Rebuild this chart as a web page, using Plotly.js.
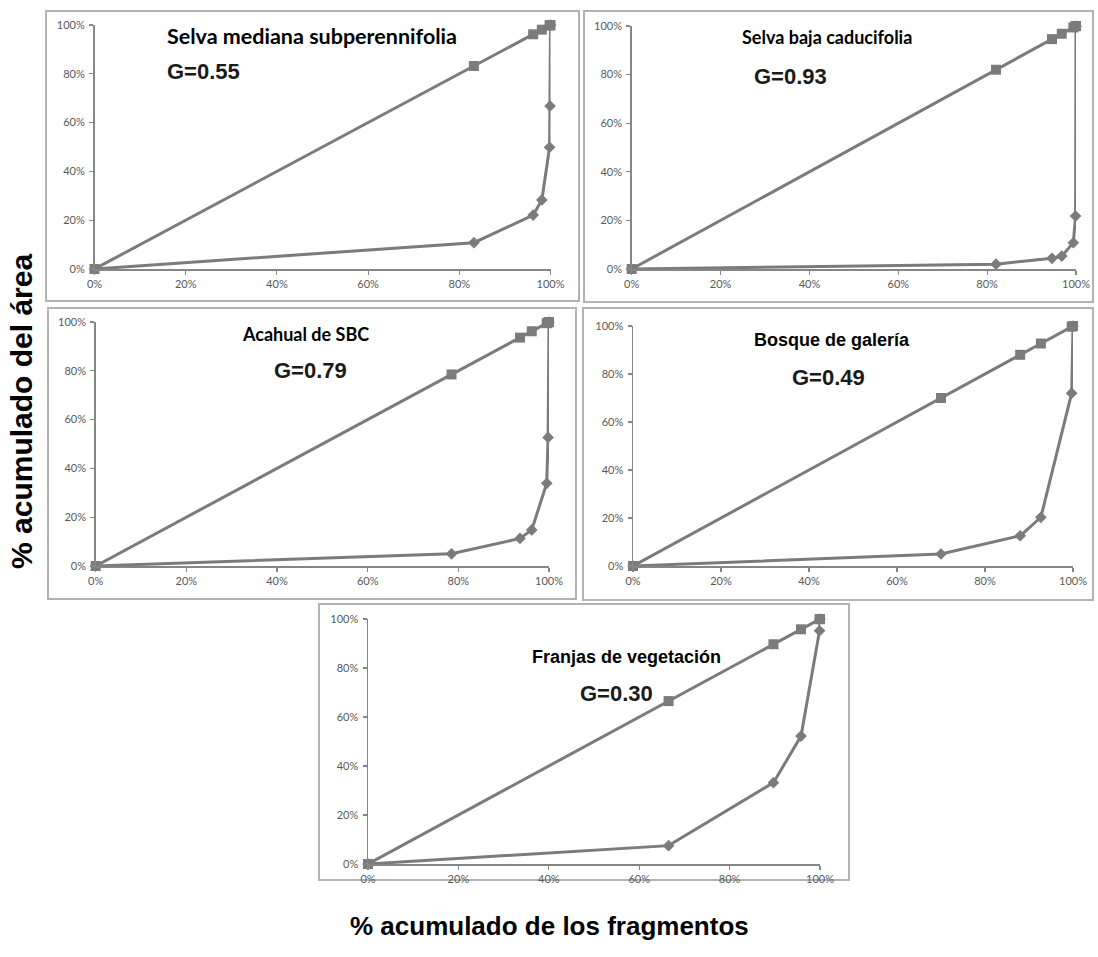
<!DOCTYPE html>
<html>
<head>
<meta charset="utf-8">
<script src="https://cdn.plot.ly/plotly-3.0.1.min.js"></script>
<style>html,body{margin:0;padding:0;background:#fff;}#chart{width:1098px;height:957px;}</style>
</head>
<body>
<div id="chart"></div>
<script>
// ---- Data (percent) ----
const titles = ["Selva mediana subperennifolia", "Selva baja caducifolia", "Acahual de SBC", "Bosque de galería", "Franjas de vegetación"];
const giniLabels = ["G=0.55", "G=0.93", "G=0.79", "G=0.49", "G=0.30"];

// Selva mediana subperennifolia
const smFrag   = [0, 83.2, 96.2, 98.1, 99.8, 99.9, 100];
const smEqual  = [0, 83.2, 96.2, 98.1, 99.8, 99.9, 100];
const smArea   = [0, 10.8, 22.1, 28.3, 49.9, 66.8, 100];
// Selva baja caducifolia
const sbFrag   = [0, 82.0, 94.6, 96.8, 99.4, 99.9, 100];
const sbEqual  = [0, 82.0, 94.6, 96.8, 99.4, 99.9, 100];
const sbArea   = [0, 2.0, 4.4, 5.3, 10.8, 21.8, 100];
// Acahual de SBC
const acFrag   = [0, 78.5, 93.6, 96.2, 99.5, 99.8, 100];
const acEqual  = [0, 78.5, 93.6, 96.2, 99.5, 99.8, 100];
const acArea   = [0, 5.0, 11.3, 14.8, 33.9, 52.7, 100];
// Bosque de galería
const bgFrag   = [0, 70.0, 88.0, 92.7, 99.7, 100];
const bgEqual  = [0, 70.0, 88.0, 92.7, 99.7, 100];
const bgArea   = [0, 5.0, 12.6, 20.3, 72.0, 100];
// Franjas de vegetación
const fvFrag   = [0, 66.5, 89.7, 95.8, 99.9, 100];
const fvEqual  = [0, 66.5, 89.7, 95.8, 99.9, 100];
const fvArea   = [0, 7.5, 33.2, 52.2, 95.2, 100];

const tickVals = [0, 20, 40, 60, 80, 100];
const tickText = ["0%", "20%", "40%", "60%", "80%", "100%"];
const yTitle = "% acumulado del área";
const xTitle = "% acumulado de los fragmentos";

// ---- Layout geometry (pixels) ----
const W = 1098, H = 957;
const px = v => v / W;
const py = v => 1 - v / H;

const calibriLike = "Lato, 'Open Sans', sans-serif";
const arialLike = "'Liberation Sans', Arial, sans-serif";

const panels = [
  {frag: smFrag, eq: smEqual, area: smArea, plot: [94.5, 550.5, 25, 269], box: [46, 579, 11, 301],
   t: [165, 36, calibriLike, 21.5], g: [165, 72]},
  {frag: sbFrag, eq: sbEqual, area: sbArea, plot: [631.7, 1076, 26, 269], box: [584, 1093, 11, 302],
   t: [740, 37, calibriLike, 18], g: [752, 76]},
  {frag: acFrag, eq: acEqual, area: acArea, plot: [95.7, 549, 322, 566], box: [48, 576, 308, 599],
   t: [240, 334, calibriLike, 18], g: [272, 370]},
  {frag: bgFrag, eq: bgEqual, area: bgArea, plot: [633, 1073, 326, 566], box: [583, 1093, 308, 600],
   t: [752, 340, arialLike, 18], g: [790, 377]},
  {frag: fvFrag, eq: fvEqual, area: fvArea, plot: [368, 820, 619, 864], box: [319, 849, 604, 880],
   t: [530, 657, arialLike, 18], g: [578, 693]}
];

const gray = "#7b7b7b";
const axisColor = "#868686";
const traces = [];
const layout = {
  width: W, height: H,
  margin: {l: 0, r: 0, t: 0, b: 0},
  paper_bgcolor: "#fff", plot_bgcolor: "rgba(0,0,0,0)",
  showlegend: false,
  shapes: [], annotations: []
};

panels.forEach((p, i) => {
  const n = i === 0 ? "" : String(i + 1);
  const xa = "x" + n, ya = "y" + n;
  traces.push({
    x: p.frag, y: p.area, xaxis: xa, yaxis: ya, type: "scatter", mode: "lines+markers",
    line: {color: gray, width: 3}, marker: {symbol: "diamond", size: 9, color: gray}, cliponaxis: false, hoverinfo: "skip"
  });
  traces.push({
    x: p.frag, y: p.eq, xaxis: xa, yaxis: ya, type: "scatter", mode: "lines+markers",
    line: {color: gray, width: 3}, marker: {symbol: "square", size: 10, color: gray}, cliponaxis: false, hoverinfo: "skip"
  });
  const common = {
    range: [0, 100], tickvals: tickVals, ticktext: tickText, showgrid: false, zeroline: false,
    showline: true, linecolor: axisColor, linewidth: 1.5, ticks: "outside", ticklen: 4, tickwidth: 1.2,
    tickcolor: axisColor, tickfont: {family: calibriLike, size: 11, color: "#595959"}, fixedrange: true
  };
  layout["xaxis" + n] = Object.assign({}, common, {domain: [px(p.plot[0]), px(p.plot[1])], anchor: ya});
  layout["yaxis" + n] = Object.assign({}, common, {domain: [py(p.plot[3]), py(p.plot[2])], anchor: xa, ticklabelstandoff: 2});
  layout.shapes.push({type: "rect", xref: "paper", yref: "paper",
    x0: px(p.box[0]), x1: px(p.box[1]), y0: py(p.box[3]), y1: py(p.box[2]),
    line: {color: "#b3b3b3", width: 2}, fillcolor: "rgba(0,0,0,0)", layer: "below"});
  layout.annotations.push({text: titles[i], xref: "paper", yref: "paper", x: px(p.t[0]), y: py(p.t[1]),
    xanchor: "left", yanchor: "middle", showarrow: false,
    font: {family: p.t[2], size: p.t[3], color: "#000", weight: "bold"}});
  layout.annotations.push({text: giniLabels[i], xref: "paper", yref: "paper", x: px(p.g[0]), y: py(p.g[1]),
    xanchor: "left", yanchor: "middle", showarrow: false,
    font: {family: arialLike, size: 22, color: "#1a1a1a", weight: "bold"}});
});

layout.annotations.push({text: yTitle, xref: "paper", yref: "paper", x: px(21), y: py(412),
  xanchor: "center", yanchor: "middle", textangle: -90, showarrow: false,
  font: {family: arialLike, size: 30, color: "#000", weight: "bold"}});
layout.annotations.push({text: xTitle, xref: "paper", yref: "paper", x: px(549), y: py(926),
  xanchor: "center", yanchor: "middle", showarrow: false,
  font: {family: arialLike, size: 26, color: "#000", weight: "bold"}});

Plotly.newPlot("chart", traces, layout, {staticPlot: true, displayModeBar: false});
</script>
</body>
</html>
